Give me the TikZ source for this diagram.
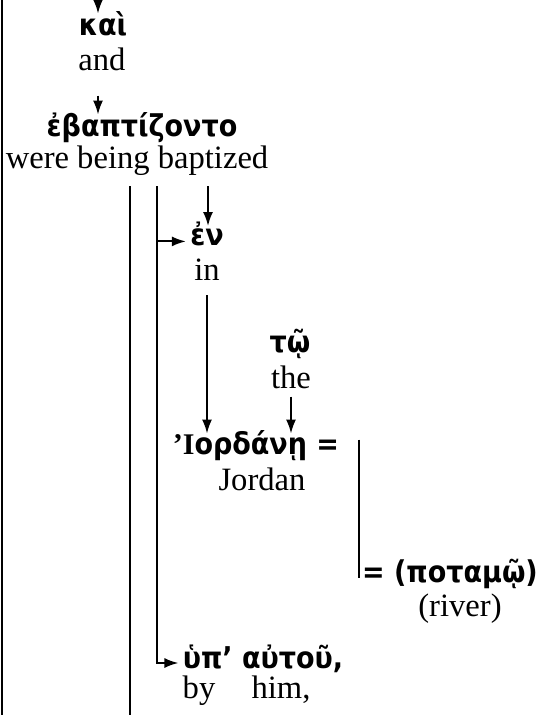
\documentclass[tikz,border=0pt]{standalone}
\usepackage{fontspec}
\setmainfont{Liberation Serif}
\newfontfamily\greekfont{DejaVu Sans Condensed}
\usetikzlibrary{arrows.meta,positioning}

\tikzset{
  gword/.style={font=\greekfont\bfseries\fontsize{15}{17}\selectfont,inner sep=0pt,anchor=base},
  eword/.style={font=\fontsize{16.3}{18}\selectfont,inner sep=0pt,anchor=base},
  rule/.style={line width=1pt},
  arr/.style={rule,-{Latex[length=7pt,width=5pt]}},
}

\begin{document}
\begin{tikzpicture}[x=0.5pt,y=-0.5pt]
\useasboundingbox (0,0) rectangle (535,715);

% words
\node[gword] (kai)    at (103,36)  {καὶ};
\node[eword] (and)    at (102,71)  {and};
\node[gword] (ebapt)  at (142,137) {ἐβαπτίζοντο};
\node[eword] (were)   at (137,169) {were being baptized};
\node[gword] (en)     at (207,246) {ἐν};
\node[eword] (in)     at (207,281) {in};
\node[gword] (tw)     at (290,352) {τῷ};
\node[eword] (the)    at (291,388) {the};
\node[gword] (iord)   at (256,454) {{\rmfamily\bfseries ’Ι}ορδάνῃ =};
\node[eword] (jordan) at (262,490) {Jordan};
\node[gword] (potamw) at (450,582) {= (ποταμῷ)};
\node[eword] (river)  at (460,616) {(river)};
\node[gword] (hupo)   at (263,668) {ὑπ’ αὐτοῦ,};
\node[eword] (by)     at (199,698) {by};
\node[eword] (him)    at (281,698) {him,};

% free ends
\coordinate (railtop) at (2,0);
\coordinate (railbot) at (2,715);
\coordinate (topin)   at (98,0);
\coordinate (lowA)    at (130,715);
\coordinate (turn)    at (157,663);
\coordinate (barx)    at (359,0);

% connectors
\draw[rule] (railtop) -- (railbot);
\draw[arr,shorten >=-1pt] (topin) -- (topin |- kai.north);
\draw[arr,shorten <=12pt,shorten >=-1pt] (and.south -| topin) -- (ebapt.north -| topin);
\draw[arr,shorten <=5pt,shorten >=-2pt] ([xshift=0.5pt]were.south -| en) -- ([xshift=0.5pt]en.north);
\draw[rule,shorten <=5pt] (were.south -| lowA) -- (lowA);
\draw[arr,shorten <=5pt,shorten >=2pt] (were.south -| turn) -- (turn) -- (turn -| hupo.west);
\draw[arr,shorten >=2pt] (en.mid west -| turn) -- (en.mid west);
\draw[arr,shorten <=7pt,shorten >=-2pt] (in.south) -- (in.south |- iord.north);
\draw[arr,shorten <=4pt,shorten >=-2pt] (the.south) -- (the.south |- iord.north);
\draw[rule] ([yshift=-5pt]iord.north -| barx) -- ([yshift=2pt]potamw.base -| barx);
\end{tikzpicture}
\end{document}
